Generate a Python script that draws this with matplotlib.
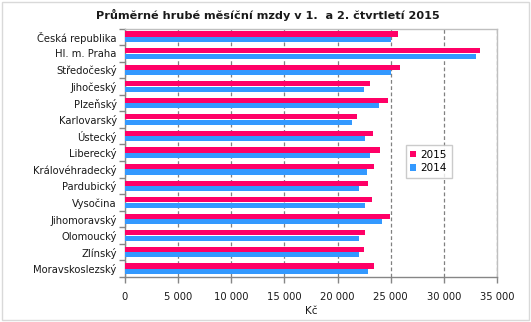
import matplotlib
matplotlib.use("Agg")
import matplotlib.pyplot as plt
from matplotlib.patches import Rectangle
from matplotlib.ticker import FixedLocator, FuncFormatter
import numpy as np

plt.rcParams['font.family'] = ['DejaVu Sans']

regions = ["Česká republika", "Hl. m. Praha", "Středočeský", "Jihočeský", "Plzeňský",
           "Karlovarský", "Ústecký", "Liberecký", "Královéhradecký", "Pardubický",
           "Vysočina", "Jihomoravský", "Olomoucký", "Zlínský", "Moravskoslezský"]
wage_2015 = [25720, 33360, 25910, 23090, 24720, 21870, 23310, 23970, 23400, 22840,
             23210, 24900, 22560, 22460, 23400]
wage_2014 = [25060, 32990, 25060, 22460, 23870, 21400, 22560, 23030, 22740, 21990,
             22560, 24150, 22030, 22030, 22840]
x_ticks = [0, 5000, 10000, 15000, 20000, 25000, 30000, 35000]

PINK = "#FF0066"
BLUE = "#3399FF"
AXIS_GREY = "#868686"
BORDER_GREY = "#BFBFBF"

W, H, DPI = 531, 322, 100
fig = plt.figure(figsize=(W / DPI, H / DPI), dpi=DPI)

# outer chart frame
fig.patches.append(Rectangle((2 / W, 2 / H), (W - 4) / W, (H - 4) / H,
                             transform=fig.transFigure, fill=False,
                             edgecolor="#D9D9D9", linewidth=1.0))

left, right, top, bottom = 125, 497, 28.5, 277
ax = fig.add_axes([left / W, 1 - bottom / H, (right - left) / W, (bottom - top) / H])

y = np.arange(len(regions))
h = 0.31
ax.barh(y - h / 2 - 0.01, wage_2015, height=h, color=PINK, label="2015", zorder=3)
ax.barh(y + h / 2 + 0.01, wage_2014, height=h, color=BLUE, label="2014", zorder=3)

ax.set_xlim(0, 35000)
ax.set_ylim(len(regions) - 0.5, -0.5)

ax.xaxis.set_major_locator(FixedLocator(x_ticks))
ax.xaxis.set_major_formatter(FuncFormatter(lambda v, p: f"{int(v):,}".replace(",", " ")))
ax.grid(axis="x", color="#808080", linestyle=(0, (3, 2)), linewidth=0.9, zorder=0)

ax.set_yticks(y)
ax.set_yticklabels(regions)
ax.yaxis.set_minor_locator(FixedLocator(np.arange(-0.5, len(regions), 1.0)))
ax.tick_params(axis="y", which="major", length=0, pad=6, labelsize=7.2, labelcolor="#1a1a1a")
ax.tick_params(axis="y", which="minor", length=4, color=AXIS_GREY, width=1, direction="out")
ax.tick_params(axis="x", which="major", length=4, color=AXIS_GREY, width=1,
               direction="out", pad=7, labelsize=7.2, labelcolor="#1a1a1a")

for s in ["left", "bottom"]:
    ax.spines[s].set_color(AXIS_GREY)
    ax.spines[s].set_linewidth(1.0)
for s in ["top", "right"]:
    ax.spines[s].set_color(BORDER_GREY)
    ax.spines[s].set_linewidth(1.0)

ax.set_xlabel("Kč", fontsize=7.5, labelpad=3, color="#1a1a1a")

leg = ax.legend(loc="upper left", bbox_to_anchor=((405.5 - left) / (right - left),
                                                 1 - (145 - top) / (bottom - top)),
                fontsize=7.5, frameon=True, fancybox=False, handlelength=0.6,
                handleheight=0.6, handletextpad=0.4, borderpad=0.45,
                labelspacing=0.35, borderaxespad=0)
leg.get_frame().set_edgecolor(BORDER_GREY)
leg.get_frame().set_linewidth(1.0)

fig.text(268 / W, 1 - 15 / H, "Průměrné hrubé měsíční mzdy v 1.  a 2. čtvrtletí 2015",
         ha="center", va="center", fontsize=8.1, fontweight="bold", color="#1a1a1a")

fig.savefig("out.png", dpi=DPI)
